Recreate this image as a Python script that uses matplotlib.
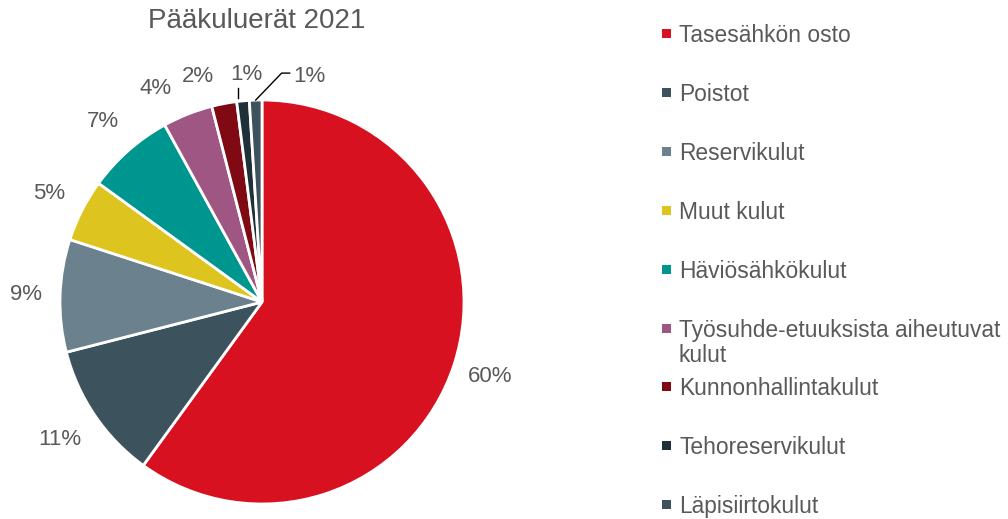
import numpy as np
import matplotlib
matplotlib.use("Agg")
import matplotlib.pyplot as plt
from matplotlib.patches import Rectangle

# ---- data ----
title = "Pääkuluerät 2021"
categories = ["Tasesähkön osto", "Poistot", "Reservikulut", "Muut kulut",
              "Häviösähkökulut", "Työsuhde-etuuksista aiheutuvat\nkulut",
              "Kunnonhallintakulut", "Tehoreservikulut", "Läpisiirtokulut"]
values = [60, 11, 9, 5, 7, 4, 2, 1, 1]
colors = ["#D7111F", "#3C535E", "#6B818D", "#DDC41F", "#009690",
          "#9F5682", "#7F0A14", "#1F3038", "#3E525C"]

W, H = 1008, 519
TXT = "#595959"
plt.rcParams['font.family'] = ['Liberation Sans', 'DejaVu Sans']

fig = plt.figure(figsize=(W / 100, H / 100), dpi=100)
ax = fig.add_axes([0, 0, 1, 1])

cx, cy, R = 262, H - 302, 202
wedges, _ = ax.pie(values, colors=colors, startangle=90, counterclock=False,
                   center=(cx, cy), radius=R,
                   wedgeprops=dict(edgecolor="white", linewidth=2.0))
ax.set_xlim(0, W)
ax.set_ylim(0, H)
ax.set_aspect("equal")
ax.axis("off")

# ---- data labels ----
label_r = [1.19, 1.21, 1.17, 1.18, 1.19, 1.18, 1.16, 1.13, 1.13]
nudge = [0, 0, 0, 0, 0, 5, 5, -1.4, 0]
total = sum(values)
for i, (w, v) in enumerate(zip(wedges, values)):
    mid = np.deg2rad((w.theta1 + w.theta2) / 2)
    txt = f"{round(v / total * 100)}%"
    if i == len(values) - 1:
        # leader-line label to the right
        ex, ey = cx + R * np.cos(mid), cy + R * np.sin(mid)
        elx, ely = ex + 26, ey + 27
        ax.plot([ex, elx, elx + 8], [ey, ely, ely], color="black", lw=1.0)
        ax.text(elx + 12, ely - 3, txt, ha="left", va="center",
                fontsize=16, color=TXT)
        continue
    a = mid + np.deg2rad(nudge[i])
    tx, ty = cx + label_r[i] * R * np.cos(a), cy + label_r[i] * R * np.sin(a)
    ax.text(tx, ty, txt, ha="center", va="center", fontsize=16, color=TXT)
    if i == len(values) - 2:
        ex = cx + R * np.cos(mid) - 5
        ey = cy + R * np.sin(mid)
        ax.plot([ex, ex], [ey + 3, ey + 13], color="black", lw=1.0)

# ---- title ----
ax.text(256.5, H - 28, title, ha="center", va="baseline",
        fontsize=20, color=TXT)

# ---- legend ----
for i, (lab, col) in enumerate(zip(categories, colors)):
    base = H - (42 + 58.9 * i)
    ax.add_patch(Rectangle((662, base + 4), 9, 9, facecolor=col,
                           edgecolor="none"))
    for j, line in enumerate(lab.split("\n")):
        ax.text(679, base - 26 * j, line, ha="left", va="baseline",
                fontsize=16.4, color=TXT)

fig.savefig("out.png", dpi=100)
